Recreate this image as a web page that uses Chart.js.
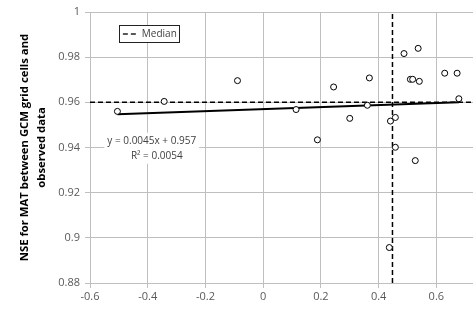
<!DOCTYPE html>
<html>
<head>
<meta charset="utf-8">
<script src="https://cdn.jsdelivr.net/npm/chart.js"></script>
<style>
html,body{margin:0;padding:0;background:#fff;}
#wrap{width:473px;height:311px;}
</style>
</head>
<body>
<div id="wrap"><canvas id="c" width="473" height="311"></canvas></div>
<script>
// ---- data ----
const pointsX = [-0.505, -0.343, -0.089, 0.114, 0.188, 0.244, 0.300, 0.361, 0.368, 0.437, 0.441, 0.458, 0.458, 0.488, 0.510, 0.518, 0.527, 0.537, 0.541, 0.629, 0.672, 0.678];
const pointsY = [0.9560, 0.9604, 0.9696, 0.9568, 0.9434, 0.9668, 0.9529, 0.9587, 0.9708, 0.8957, 0.9517, 0.9533, 0.9401, 0.9816, 0.9702, 0.9702, 0.9342, 0.9839, 0.9693, 0.9729, 0.9729, 0.9616];
const trendSlope = 0.0045;
const trendIntercept = 0.957;
const trendRange = [-0.505, 0.678];
const medianX = 0.448;
const medianY = 0.96;
const xTicks = [-0.6, -0.4, -0.2, 0, 0.2, 0.4, 0.6];
const yTicks = [0.88, 0.9, 0.92, 0.94, 0.96, 0.98, 1];
const xRange = [-0.6, 0.727];
const yRange = [0.88, 1];
const yTitle = ['NSE for MAT between GCM grid cells and', 'observed data'];
const eqLines = ['y = 0.0045x + 0.957', 'R² = 0.0054'];
const legendLabel = 'Median';

const FONT = '"Open Sans", "Liberation Sans", sans-serif';

const scatterData = pointsX.map((x, i) => ({x: x, y: pointsY[i]}));
const trendData = trendRange.map(x => ({x: x, y: trendSlope * x + trendIntercept}));
const medianHData = [{x: xRange[0], y: medianY}, {x: xRange[1], y: medianY}];
const medianVData = [{x: medianX, y: yRange[0]}, {x: medianX, y: yRange[1]}];

const overlayPlugin = {
  id: 'overlay',
  afterDatasetsDraw(chart) {
    const ctx = chart.ctx;
    const xs = chart.scales.x, ys = chart.scales.y;
    ctx.save();
    // equation box
    ctx.font = '10px ' + FONT;
    ctx.textAlign = 'center';
    ctx.textBaseline = 'middle';
    const cx = xs.getPixelForValue(-0.386);
    const cy1 = ys.getPixelForValue(0.9430);
    const cy2 = cy1 + 15;
    const w1 = ctx.measureText(eqLines[0]).width;
    const w2 = ctx.measureText(eqLines[1]).width;
    ctx.fillStyle = '#fff';
    ctx.fillRect(cx - Math.max(w1, w2) / 2 - 3, cy1 - 8, Math.max(w1, w2) + 6, 31);
    ctx.fillStyle = '#404040';
    ctx.fillText(eqLines[0], cx, cy1);
    ctx.fillText(eqLines[1], cx + 5, cy2);
    // legend box
    const lx = xs.getPixelForValue(-0.5), ly = ys.getPixelForValue(0.9942);
    const lw = 60, lh = 17;
    ctx.fillStyle = '#fff';
    ctx.fillRect(lx, ly, lw, lh);
    ctx.strokeStyle = '#222';
    ctx.lineWidth = 1;
    ctx.strokeRect(Math.round(lx) + 0.5, Math.round(ly) + 0.5, lw, lh);
    ctx.setLineDash([5, 3]);
    ctx.lineWidth = 1.5;
    ctx.beginPath();
    ctx.moveTo(lx + 4, ly + lh / 2 + 0.5);
    ctx.lineTo(lx + 20, ly + lh / 2 + 0.5);
    ctx.stroke();
    ctx.setLineDash([]);
    ctx.fillStyle = '#404040';
    ctx.textAlign = 'left';
    ctx.font = '10px ' + FONT;
    ctx.fillText(legendLabel, lx + 23, ly + lh / 2 + 1);
    ctx.restore();
  }
};

new Chart(document.getElementById('c'), {
  type: 'scatter',
  data: {
    datasets: [
      {label: 'medianH', type: 'line', data: medianHData, borderColor: '#000', borderWidth: 1.5, borderDash: [5, 3], pointRadius: 0, fill: false, order: 4},
      {label: 'medianV', type: 'line', data: medianVData, borderColor: '#000', borderWidth: 1.5, borderDash: [5, 3], pointRadius: 0, fill: false, order: 3},
      {label: 'trend', type: 'line', data: trendData, borderColor: '#000', borderWidth: 2, pointRadius: 0, fill: false, order: 2},
      {label: 'NSE', data: scatterData, pointRadius: 3, pointBorderWidth: 1, pointBorderColor: '#000', pointBackgroundColor: '#fff', order: 1}
    ]
  },
  options: {
    responsive: false,
    animation: false,
    devicePixelRatio: 1,
    layout: {autoPadding: false, padding: {top: 12, right: 0, left: 0, bottom: 0}},
    plugins: {legend: {display: false}, tooltip: {enabled: false}},
    scales: {
      x: {
        type: 'linear', min: xRange[0], max: xRange[1],
        afterBuildTicks(scale) { scale.ticks = xTicks.map(v => ({value: v})); },
        afterFit(scale) { scale.height = 28; scale.paddingLeft = 0; scale.paddingRight = 0; },
        ticks: {color: '#595959', font: {family: FONT, size: 11}, padding: 2, maxRotation: 0,
          callback: v => String(+v.toFixed(2))},
        grid: {color: '#bfbfbf', lineWidth: 1, tickLength: 5, drawTicks: true},
        border: {color: '#bfbfbf'}
      },
      y: {
        type: 'linear', min: yRange[0], max: yRange[1],
        afterBuildTicks(scale) { scale.ticks = yTicks.map(v => ({value: v})); },
        afterFit(scale) { scale.width = 90; scale.paddingTop = 0; scale.paddingBottom = 0; },
        ticks: {color: '#595959', font: {family: FONT, size: 11}, padding: 5,
          callback: v => String(+v.toFixed(2))},
        grid: {color: '#bfbfbf', lineWidth: 1, tickLength: 5},
        border: {color: '#bfbfbf'},
        title: {display: true, text: yTitle, color: '#000', font: {family: FONT, size: 11.3, weight: 'bold', lineHeight: 1.55}, padding: {top: 16, bottom: 0}}
      }
    }
  },
  plugins: [overlayPlugin]
});
</script>
</body>
</html>
